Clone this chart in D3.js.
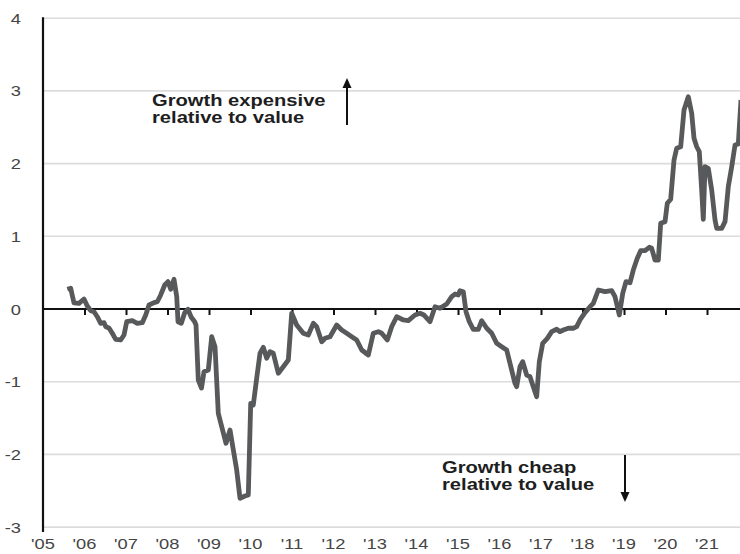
<!DOCTYPE html>
<html>
<head>
<meta charset="utf-8">
<script src="https://cdn.jsdelivr.net/npm/d3@7"></script>
<style>
  html, body { margin: 0; padding: 0; background: #fff; }
  svg { display: block; font-family: "Liberation Sans", Arial, sans-serif; }
</style>
</head>
<body>
<svg id="chart" width="740" height="554"></svg>
<script>
// ---- data (decimal year, relative valuation z-score) ----
const dates = [
  2005.586, 2005.667, 2005.747, 2005.867, 2005.988, 2006.067, 2006.149, 2006.229, 2006.308, 2006.390,
  2006.470, 2006.511, 2006.590, 2006.670, 2006.752, 2006.872, 2006.952, 2007.017, 2007.152, 2007.272,
  2007.393, 2007.475, 2007.554, 2007.675, 2007.754, 2007.836, 2007.933, 2008.012, 2008.077, 2008.157,
  2008.222, 2008.253, 2008.333, 2008.414, 2008.494, 2008.573, 2008.655, 2008.687, 2008.742, 2008.819,
  2008.880, 2008.983, 2009.065, 2009.145, 2009.224, 2009.306, 2009.410, 2009.506, 2009.586, 2009.667,
  2009.747, 2009.867, 2009.947, 2010.005, 2010.067, 2010.149, 2010.229, 2010.308, 2010.390, 2010.470,
  2010.549, 2010.670, 2010.790, 2010.911, 2010.993, 2011.113, 2011.272, 2011.393, 2011.513, 2011.595,
  2011.716, 2011.795, 2011.916, 2012.077, 2012.198, 2012.318, 2012.439, 2012.559, 2012.680, 2012.839,
  2012.959, 2013.080, 2013.161, 2013.296, 2013.402, 2013.523, 2013.682, 2013.802, 2013.964, 2014.084,
  2014.181, 2014.325, 2014.446, 2014.566, 2014.728, 2014.848, 2014.928, 2015.007, 2015.048, 2015.128,
  2015.193, 2015.272, 2015.369, 2015.489, 2015.571, 2015.692, 2015.812, 2015.933, 2016.053, 2016.173,
  2016.253, 2016.373, 2016.414, 2016.494, 2016.559, 2016.655, 2016.735, 2016.814, 2016.896, 2016.959,
  2017.041, 2017.152, 2017.258, 2017.378, 2017.458, 2017.537, 2017.658, 2017.778, 2017.860, 2017.940,
  2018.060, 2018.181, 2018.260, 2018.381, 2018.542, 2018.704, 2018.783, 2018.887, 2018.969, 2019.048,
  2019.145, 2019.224, 2019.320, 2019.402, 2019.506, 2019.610, 2019.667, 2019.747, 2019.827, 2019.884,
  2019.988, 2020.043, 2020.125, 2020.205, 2020.270, 2020.366, 2020.446, 2020.549, 2020.631, 2020.687,
  2020.752, 2020.814, 2020.872, 2020.911, 2020.952, 2021.031, 2021.113, 2021.193, 2021.234, 2021.354,
  2021.434, 2021.513, 2021.595, 2021.675, 2021.754, 2021.819
];
const values = [
  0.271, 0.285, 0.083, 0.078, 0.138, 0.041, -0.023, -0.037, -0.106, -0.197,
  -0.188, -0.243, -0.261, -0.334, -0.417, -0.426, -0.358, -0.175, -0.161, -0.197,
  -0.188, -0.083, 0.055, 0.087, 0.100, 0.193, 0.330, 0.376, 0.271, 0.409,
  0.169, -0.175, -0.197, -0.051, -0.004, -0.114, -0.175, -0.220, -0.977, -1.087,
  -0.862, -0.839, -0.381, -0.519, -1.435, -1.619, -1.847, -1.664, -1.939, -2.214,
  -2.604, -2.572, -2.558, -1.297, -1.320, -0.953, -0.609, -0.527, -0.678, -0.587,
  -0.609, -0.884, -0.794, -0.702, -0.059, -0.220, -0.334, -0.358, -0.197, -0.243,
  -0.450, -0.403, -0.381, -0.220, -0.289, -0.334, -0.381, -0.426, -0.564, -0.633,
  -0.334, -0.312, -0.334, -0.426, -0.243, -0.106, -0.151, -0.161, -0.083, -0.059,
  -0.083, -0.175, 0.032, 0.010, 0.069, 0.169, 0.206, 0.193, 0.252, 0.238,
  -0.037, -0.175, -0.279, -0.279, -0.161, -0.265, -0.334, -0.472, -0.519, -0.564,
  -0.747, -1.022, -1.069, -0.794, -0.725, -0.908, -0.931, -1.069, -1.206, -0.725,
  -0.472, -0.403, -0.312, -0.279, -0.312, -0.289, -0.265, -0.265, -0.243, -0.151,
  -0.051, 0.032, 0.078, 0.261, 0.238, 0.252, 0.169, -0.083, 0.216, 0.376,
  0.362, 0.536, 0.697, 0.802, 0.802, 0.849, 0.835, 0.674, 0.674, 1.179,
  1.201, 1.454, 1.509, 2.049, 2.210, 2.232, 2.737, 2.920, 2.692, 2.348,
  2.232, 2.164, 1.637, 1.234, 1.957, 1.935, 1.637, 1.224, 1.110, 1.110,
  1.201, 1.682, 1.957, 2.256, 2.270, 2.875
];
const yTicks = [-3, -2, -1, 0, 1, 2, 3, 4];
const yTickLabels = ["-3", "-2", "-1", "0", "1", "2", "3", "4"];
const xTicks = [2005, 2006, 2007, 2008, 2009, 2010, 2011, 2012, 2013, 2014, 2015, 2016, 2017, 2018, 2019, 2020, 2021];
const xTickLabels = ["'05", "'06", "'07", "'08", "'09", "'10", "'11", "'12", "'13", "'14", "'15", "'16", "'17", "'18", "'19", "'20", "'21"];
const notes = [
  { lines: ["Growth expensive", "relative to value"], dir: "up" },
  { lines: ["Growth cheap", "relative to value"], dir: "down" }
];

// ---- layout ----
const svg = d3.select("#chart");
const W = 740, H = 554;
const x = d3.scaleLinear().domain([2005, 2021.795]).range([43, 740]);
const y = d3.scaleLinear().domain([-3, 4]).range([527.1, 18.2]);
const SX = 1.22; // horizontal stretch of all text

// gridlines
svg.append("g").selectAll("line").data(yTicks.filter(d => d !== 0)).join("line")
  .attr("x1", x(2005)).attr("x2", W)
  .attr("y1", d => y(d)).attr("y2", d => y(d))
  .attr("stroke", "#dcdcdc").attr("stroke-width", 1.6);

// y labels
svg.append("g").selectAll("text").data(yTicks).join("text")
  .attr("transform", d => `translate(21,${y(d) + 5.5}) scale(${SX},1)`)
  .attr("text-anchor", "end")
  .attr("font-size", 15).attr("fill", "#454545")
  .text((d, i) => yTickLabels[i]);

// x labels
svg.append("g").selectAll("text").data(xTicks).join("text")
  .attr("transform", (d, i) => `translate(${x(d)},549) scale(${SX},1)`)
  .attr("text-anchor", "middle")
  .attr("font-size", 15).attr("fill", "#454545")
  .text((d, i) => xTickLabels[i]);

// zero line with ticks below
const zeroAxis = d3.axisBottom(x).tickValues(xTicks.slice(1)).tickSize(6).tickFormat("");
const gz = svg.append("g").attr("transform", `translate(0,${y(0)})`).call(zeroAxis);
gz.select(".domain").attr("d", `M${x(2005)},0H${W}`).attr("stroke", "#111").attr("stroke-width", 2);
gz.selectAll(".tick line").attr("stroke", "#111").attr("stroke-width", 2);

// y axis line
svg.append("line").attr("x1", x(2005)).attr("x2", x(2005))
  .attr("y1", y(4) - 1).attr("y2", y(-3) + 5)
  .attr("stroke", "#111").attr("stroke-width", 2.2);

// series line
const pts = dates.map((d, i) => [d, values[i]]);
svg.append("path").datum(pts)
  .attr("fill", "none").attr("stroke", "#58595b").attr("stroke-width", 4.8)
  .attr("stroke-linejoin", "round").attr("stroke-linecap", "butt")
  .attr("d", d3.line().x(d => x(d[0])).y(d => y(d[1])));

// annotations
const defs = svg.append("defs");
defs.append("marker").attr("id", "ah").attr("viewBox", "0 0 10 10")
  .attr("refX", 2).attr("refY", 5).attr("markerWidth", 12).attr("markerHeight", 10)
  .attr("markerUnits", "userSpaceOnUse").attr("orient", "auto")
  .append("path").attr("d", "M0,0.5 L10,5 L0,9.5 Z").attr("fill", "#111");

function note(n, tx, ty, ax, ay1, ay2) {
  const g = svg.append("g");
  n.lines.forEach((t, i) => {
    g.append("text")
      .attr("transform", `translate(${tx},${ty + i * 17}) scale(1.26,1)`)
      .attr("font-size", 16).attr("font-weight", "bold").attr("fill", "#1e1e1e")
      .text(t);
  });
  g.append("line").attr("x1", ax).attr("x2", ax).attr("y1", ay1).attr("y2", ay2)
    .attr("stroke", "#111").attr("stroke-width", 2).attr("marker-end", "url(#ah)");
}
note(notes[0], 152, 106, 347, 125, 86);
note(notes[1], 442, 473, 625, 455, 494);
</script>
</body>
</html>
